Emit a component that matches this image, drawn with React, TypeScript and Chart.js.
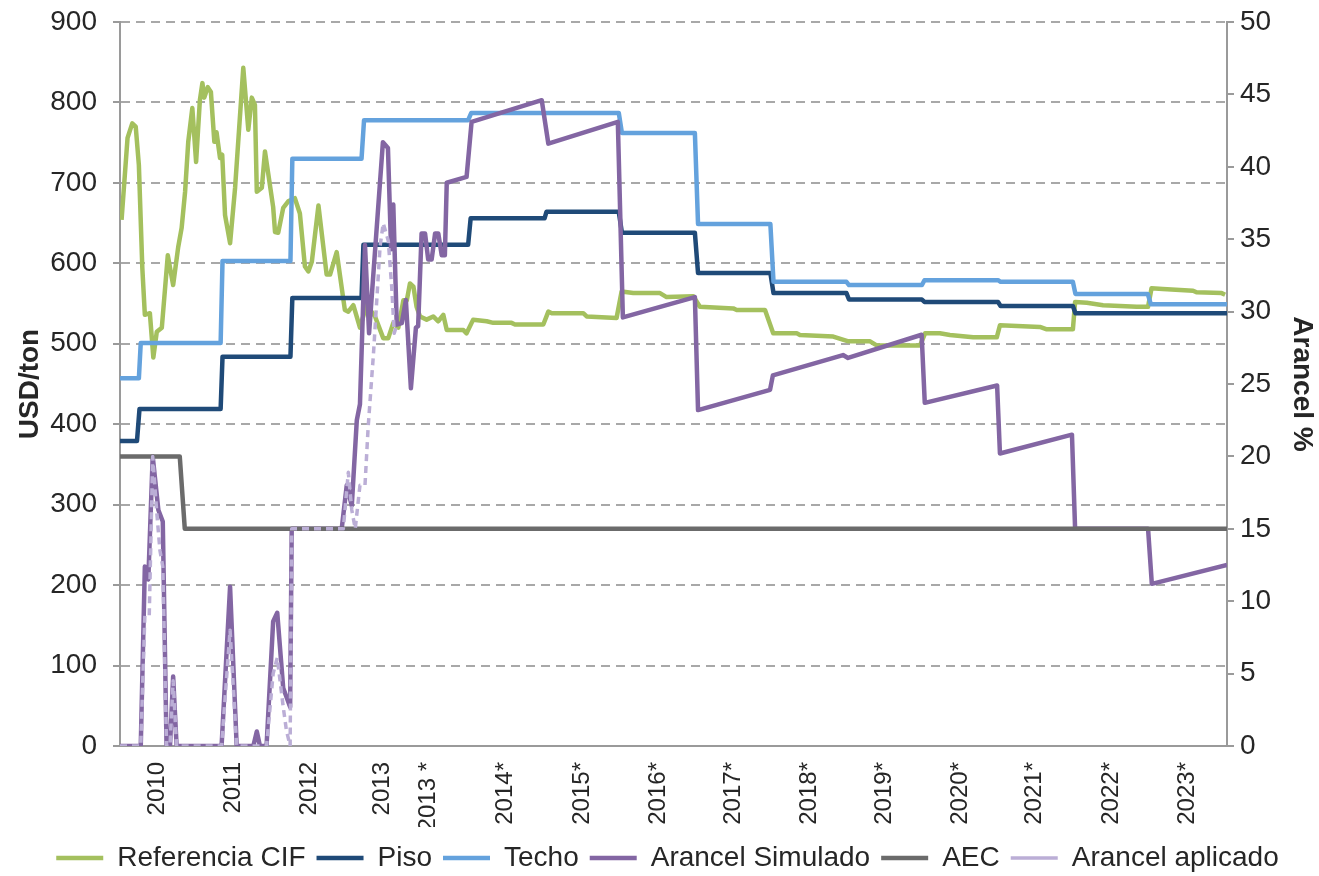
import React, { useEffect, useRef } from "react";
import { Chart, registerables } from "chart.js";

Chart.register(...registerables);
Chart.defaults.font.family = "'Liberation Sans', Arial, sans-serif";

// x = quincena (half-month period) index since Jan 2010
const tickPositions = [11.8, 35.9, 60.1, 83.3, 97.9, 122.4, 146.9, 171.1, 194.9, 219.1, 242.9, 267.1, 290.9, 315.1, 339.3];
const tickLabels = ["2010", "2011", "2012", "2013", "2013 *", "2014*", "2015*", "2016*", "2017*", "2018*", "2019*", "2020*", "2021*", "2022*", "2023*"];

const seriesNames = ["Referencia CIF", "Piso", "Techo", "Arancel Simulado", "AEC", "Arancel aplicado"];
const leftTitle = "USD/ton";
const rightTitle = "Arancel %";

// USD/ton
const referenciaCIF: [number, number][] = [
  [0.5, 654], [2.4, 756], [3.9, 774], [5.0, 770], [6.0, 722], [7.1, 594], [7.9, 536], [9.5, 538], [10.6, 483], [11.7, 515],
  [13.3, 520], [15.2, 610], [16.9, 573], [18.5, 620], [19.6, 644], [20.7, 689], [21.7, 751], [23.0, 793], [24.2, 726], [25.4, 803],
  [26.2, 824], [26.8, 806], [27.9, 819], [28.9, 813], [30.0, 751], [30.7, 763], [31.8, 731], [32.5, 735], [33.4, 660], [35.0, 625],
  [36.6, 694], [39.2, 843], [40.8, 766], [41.9, 806], [42.9, 797], [43.5, 689], [45.1, 694], [46.1, 739], [48.7, 670], [49.3, 639],
  [50.3, 638], [51.9, 669], [53.5, 677], [55.6, 681], [57.2, 662], [58.8, 596], [59.9, 590], [61.0, 602], [63.1, 672], [65.7, 586],
  [66.8, 586], [68.9, 614], [71.5, 542], [72.6, 540], [74.2, 548], [76.3, 520], [78.4, 548], [81.1, 534], [83.7, 507], [85.3, 507],
  [86.9, 526], [88.5, 520], [90.1, 554], [91.2, 554], [92.2, 575], [93.3, 571], [94.3, 546], [95.4, 534], [97.5, 530], [99.6, 534],
  [101.2, 528], [102.8, 536], [103.9, 517], [109.2, 517], [110.2, 513], [112.3, 530], [116.6, 528], [118.7, 526], [124.5, 526], [125.6, 524],
  [134.6, 524], [136.2, 540], [137.3, 538], [147.3, 538], [148.4, 534], [157.9, 532], [159.5, 565], [163.2, 563], [171.7, 563], [173.8, 558],
  [182.3, 559], [184.4, 546], [195.0, 544], [196.1, 542], [205.1, 542], [207.7, 513], [215.2, 513], [216.2, 511], [226.8, 509], [231.6, 503],
  [238.5, 503], [240.6, 498], [254.4, 498], [256.0, 513], [260.7, 513], [263.9, 511], [271.3, 508], [278.8, 508], [279.8, 523], [292.5, 521],
  [294.7, 518], [303.0, 518], [303.7, 552], [307.4, 551], [312.6, 548], [323.3, 546], [326.9, 546], [328.0, 569], [331.6, 568], [341.2, 566],
  [342.3, 564], [350.3, 563], [351.4, 561],
];

const piso: [number, number][] = [
  [0, 379], [5.4, 379], [6.2, 419], [32, 419], [32.6, 484], [54.2, 484], [54.8, 557], [76.8, 557], [77.4, 623], [110.7, 623],
  [111.5, 656], [135, 656], [135.6, 664], [158.6, 664], [159.6, 638], [182.8, 638], [183.8, 588], [206.8, 588], [207.8, 563], [231, 563],
  [231.8, 555], [255, 555], [255.8, 552], [279.2, 552], [280, 547], [303, 547], [303.8, 538], [352, 538],
];

const techo: [number, number][] = [
  [0, 457], [6.0, 457], [6.6, 501], [32, 501], [32.6, 603], [54.2, 603], [54.8, 730], [76.8, 730], [77.6, 778], [110.7, 778],
  [111.7, 787], [158.6, 787], [159.6, 762], [182.8, 762], [183.8, 649], [206.8, 649], [207.8, 577], [231, 577], [231.8, 573], [255, 573],
  [255.8, 579], [279.2, 579], [280, 577], [303, 577], [303.8, 562], [326.8, 562], [327.8, 549], [352, 549],
];

// %
const arancelSimulado: [number, number][] = [
  [0, 0], [6.6, 0], [7.9, 12.4], [9.0, 11.5], [10.4, 20], [12.2, 16.3], [13.6, 15.5], [14.8, 0], [15.9, 0], [16.9, 4.8],
  [18.0, 0], [32.3, 0], [35.0, 11.0], [37.1, 0], [42.4, 0], [43.5, 1.0], [44.5, 0], [46.6, 0], [48.7, 8.6], [50.0, 9.2],
  [51.9, 4.0], [54.1, 2.7], [54.6, 15], [70.5, 15], [72.1, 18.0], [73.7, 16.6], [75.3, 22.5], [76.3, 23.6], [77.9, 34.6], [79.2, 28.5],
  [83.6, 41.7], [85.2, 41.3], [86.2, 34.3], [86.9, 37.4], [88.0, 29.1], [89.6, 29.2], [90.9, 30.8], [92.5, 24.7], [94.1, 28.9], [94.8, 29.0],
  [95.9, 35.4], [97.0, 35.4], [98.0, 33.6], [99.1, 33.6], [100.2, 35.4], [101.2, 35.4], [102.3, 33.9], [103.3, 33.9], [103.9, 38.9], [110.2, 39.3],
  [111.8, 43.1], [134.1, 44.6], [136.2, 41.6], [158.3, 43.1], [159.9, 29.6], [182.8, 31.0], [183.8, 23.2], [206.7, 24.6], [207.6, 25.6], [229.9, 27.0],
  [231.5, 26.8], [254.9, 28.4], [255.9, 23.7], [278.9, 24.9], [279.8, 20.2], [302.7, 21.5], [303.7, 15.0], [326.9, 15.0], [328.1, 11.2], [352, 12.5],
];

const aec: [number, number][] = [
  [0, 20], [19, 20], [20.6, 15], [352, 15],
];

const arancelAplicado: [number, number][] = [
  [0, 0], [6.6, 0], [7.9, 9.0], [9.3, 9.0], [10.4, 20], [11.7, 16.1], [12.7, 13.5], [13.6, 12.4], [14.8, 0], [15.9, 0],
  [16.9, 4.5], [18.0, 0], [32.3, 0], [35.0, 8.0], [37.1, 0], [46.6, 0], [48.7, 5.0], [50.0, 6.1], [51.9, 2.7], [52.9, 1.1],
  [54.1, 0], [54.6, 15], [71.0, 15], [72.6, 18.9], [73.7, 16.3], [74.8, 15.0], [76.3, 18.0], [77.9, 18.0], [78.9, 22.0], [80.6, 27.1],
  [82.7, 34.5], [83.7, 36.1], [85.3, 34.9], [86.4, 31.7], [87.2, 28.5], [88.0, 29.1],
];

const colors = ["#A4C05E", "#1F4A78", "#64A2DD", "#8366A3", "#6B6B6B", "#BBAED6"];
const textColor = "#262626";
const axisColor = "#9a9a9a";

function mk(i: number, pts: [number, number][], axis: string, width: number, dash: number[] = []) {
  return {
    label: seriesNames[i],
    data: pts.map(([x, y]) => ({ x, y })),
    borderColor: colors[i],
    backgroundColor: colors[i],
    borderWidth: width,
    borderDash: dash,
    pointRadius: 0,
    pointHoverRadius: 0,
    tension: 0,
    fill: false,
    borderJoinStyle: "round" as const,
    yAxisID: axis,
    order: 10 - i,
  };
}

const axisTitlesPlugin = {
  id: "axisTitles",
  afterDraw(chart: any) {
    const { ctx, chartArea } = chart;
    const cy = (chartArea.top + chartArea.bottom) / 2;
    ctx.save();
    ctx.font = "bold 28px 'Liberation Sans', Arial, sans-serif";
    ctx.fillStyle = textColor;
    ctx.textAlign = "center";
    ctx.textBaseline = "middle";
    ctx.save();
    ctx.translate(chart.scales.y.left + 30, cy);
    ctx.rotate(-Math.PI / 2);
    ctx.fillText(leftTitle, 0, 0);
    ctx.restore();
    ctx.save();
    ctx.translate(chart.scales.y1.right - 17, cy);
    ctx.rotate(Math.PI / 2);
    ctx.fillText(rightTitle, 0, 0);
    ctx.restore();
    ctx.restore();
  },
};

const legendShiftPlugin = {
  id: "legendShift",
  afterLayout(chart: any) {
    const lg = chart.legend;
    if (lg) {
      lg.top += 6;
      lg.bottom += 6;
      lg.left += 8;
      lg.right += 8;
    }
  },
};

export default function App() {
  const ref = useRef<HTMLCanvasElement>(null);
  useEffect(() => {
    document.body.style.margin = "0";
    document.documentElement.style.overflow = "hidden";
    const chart = new Chart(ref.current as HTMLCanvasElement, {
      type: "line",
      data: {
        datasets: [
          mk(0, referenciaCIF, "y", 4.5),
          mk(1, piso, "y", 4.5),
          mk(2, techo, "y", 4.5),
          mk(3, arancelSimulado, "y1", 4.5),
          mk(4, aec, "y1", 4.5),
          mk(5, arancelAplicado, "y1", 3.5, [7, 5]),
        ] as any,
      },
      options: {
        animation: false,
        responsive: false,
        layout: { padding: { top: 22, left: 0, right: 0, bottom: 0 } },
        plugins: {
          tooltip: { enabled: false },
          legend: {
            position: "bottom",
            labels: {
              usePointStyle: true,
              pointStyle: "line",
              pointStyleWidth: 47,
              padding: 11,
              color: textColor,
              font: { size: 28 },
              sort: (a: any, b: any) => a.datasetIndex - b.datasetIndex,
            },
          },
        },
        scales: {
          x: {
            type: "linear",
            min: 0,
            max: 352,
            afterBuildTicks: (s: any) => {
              s.ticks = tickPositions.map((v) => ({ value: v }));
            },
            afterFit: (s: any) => {
              s.height = 81;
            },
            ticks: {
              autoSkip: false,
              maxRotation: 90,
              minRotation: 90,
              padding: 16,
              color: textColor,
              font: { size: 24 },
              callback: (_v: any, i: number) => tickLabels[i],
            },
            grid: { display: false, drawTicks: false },
            border: { display: true, color: axisColor, width: 2 },
          },
          y: {
            position: "left",
            min: 0,
            max: 900,
            afterFit: (s: any) => {
              s.width = 120;
              s.paddingTop = 0;
              s.paddingBottom = 0;
            },
            ticks: { stepSize: 100, padding: 16, color: textColor, font: { size: 28 } },
            grid: { color: "#a8a8a8", lineWidth: 2, tickLength: 7, tickColor: axisColor },
            border: { display: true, color: axisColor, width: 2, dash: [9, 6] },
          },
          y1: {
            position: "right",
            min: 0,
            max: 50,
            afterFit: (s: any) => {
              s.width = 92;
              s.paddingTop = 0;
              s.paddingBottom = 0;
            },
            ticks: { stepSize: 5, padding: 6, color: textColor, font: { size: 28 } },
            grid: { drawOnChartArea: false, drawTicks: true, tickLength: 7, color: axisColor, lineWidth: 2 },
            border: { display: true, color: axisColor, width: 2 },
          },
        },
      } as any,
      plugins: [axisTitlesPlugin, legendShiftPlugin],
    });
    return () => chart.destroy();
  }, []);
  return (
    <div style={{ width: 1319, height: 876 }}>
      <canvas ref={ref} width={1319} height={876} style={{ display: "block" }} />
    </div>
  );
}
